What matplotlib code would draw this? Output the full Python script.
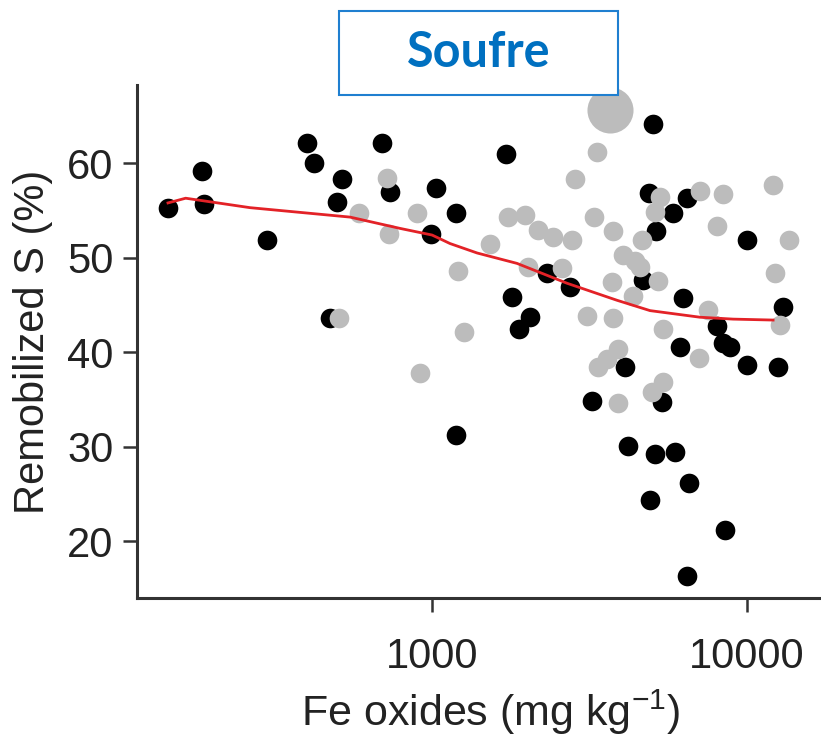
import numpy as np
import matplotlib
matplotlib.use('Agg')
import matplotlib.pyplot as plt
from matplotlib.patches import Rectangle

plt.rcParams['font.family'] = ['Liberation Sans', 'DejaVu Sans']
plt.rcParams['mathtext.fontset'] = 'custom'
plt.rcParams['mathtext.rm'] = 'Liberation Sans'
plt.rcParams['mathtext.it'] = 'Liberation Sans'

# black points (Fe oxides mg/kg, remobilized S %)
black_x = [145, 186, 188, 299, 401, 422, 518, 499, 474, 692, 736, 1031, 1191, 993, 1191,
           5040, 1717, 4890, 6460, 5820, 5140, 10000, 2320, 2740, 1795, 4680, 6270, 13000,
           2047, 1890, 8040, 8830, 8390, 6130, 4100, 10000, 12530, 3220, 5370, 4190, 5110,
           5900, 6550, 4920, 8510, 6450]
black_y = [55.3, 59.2, 55.7, 51.9, 62.1, 60.0, 58.3, 55.9, 43.6, 62.1, 57.0, 57.4, 54.7, 52.5, 31.2,
           64.2, 61.0, 56.8, 56.3, 54.7, 52.8, 51.9, 48.4, 46.9, 45.8, 47.6, 45.7, 44.8,
           43.7, 42.5, 42.8, 40.5, 41.0, 40.5, 38.4, 38.6, 38.4, 34.8, 34.7, 30.1, 29.2,
           29.4, 26.1, 24.3, 21.2, 16.3]

# grey points
grey_x = [720, 586, 896, 730, 1210, 507, 1265, 916, 3340, 2845, 5300, 7100, 8390, 12100,
          5100, 1742, 1972, 3270, 8040, 2175, 2420, 2780, 3760, 1528, 13600, 4640, 4040,
          4400, 4570, 2020, 2590, 12280, 3730, 5210, 4350, 7510, 12740, 3100, 3760, 5410,
          7050, 3890, 3600, 3370, 5410, 4990, 3890]
grey_y = [58.4, 54.7, 54.7, 52.5, 48.6, 43.6, 42.1, 37.8, 61.2, 58.3, 56.4, 57.1, 56.7, 57.7,
          54.8, 54.3, 54.5, 54.3, 53.4, 52.9, 52.2, 51.9, 52.8, 51.5, 51.9, 51.9, 50.3,
          49.7, 49.0, 49.0, 48.9, 48.4, 47.4, 47.5, 46.0, 44.5, 42.9, 43.8, 43.6, 42.5,
          39.4, 40.3, 39.3, 38.4, 36.8, 35.8, 34.6]

# one big grey point
big_x = [3675]
big_y = [65.6]

# red smoothed fit
fit_x = [145, 165, 264, 549, 792, 1000, 1140, 1390, 1860, 2680, 3860, 4920, 7090, 9030, 12100]
fit_y = [55.8, 56.3, 55.3, 54.3, 53.1, 52.4, 51.5, 50.5, 49.4, 47.3, 45.5, 44.4, 43.7, 43.5, 43.4]

fig = plt.figure(figsize=(8.21, 7.42), dpi=100)
ax = fig.add_axes([0.167, 0.194, 0.832, 0.691])

ax.scatter(black_x, black_y, s=200, color='black', linewidths=0, zorder=2)
ax.scatter(grey_x, grey_y, s=200, color='#bcbcbc', linewidths=0, zorder=3)
ax.scatter(big_x, big_y, s=1100, color='#bcbcbc', linewidths=0, zorder=3)
ax.plot(fit_x, fit_y, color='#e32227', lw=2, zorder=4)

ax.set_xscale('log')
ax.set_xlim(115.7, 17070)
ax.set_ylim(13.97, 68.25)
ax.set_xticks([1000, 10000])
ax.set_xticklabels(['1000', '10000'])
ax.xaxis.set_minor_locator(matplotlib.ticker.NullLocator())
ax.set_yticks([20, 30, 40, 50, 60])

for side in ['top', 'right']:
    ax.spines[side].set_visible(False)
for side in ['left', 'bottom']:
    ax.spines[side].set_linewidth(2.2)
    ax.spines[side].set_color('#333333')
ax.tick_params(axis='both', length=10, width=1.8, color='#333333',
               labelsize=30, labelcolor='#222222')
ax.tick_params(axis='x', pad=18)
ax.tick_params(axis='y', pad=7)

ax.set_xlabel(r'Fe oxides (mg kg$^{-1}$)', fontsize=31, color='#222222')
ax.xaxis.set_label_coords(0.517, -0.175)
ax.set_ylabel('Remobilized S (%)', fontsize=30, color='#222222', labelpad=10)

# title box
fig.patches.append(Rectangle((0.413, 0.872), 0.340, 0.113, transform=fig.transFigure,
                             fc='white', ec='#1f7fd0', lw=1.5))
fig.text(0.583, 0.929, 'Soufre', fontsize=35, fontweight='bold', family=['Lato', 'DejaVu Sans'],
         color='#0070c0', ha='center', va='center')

fig.savefig('out.png', dpi=100)
